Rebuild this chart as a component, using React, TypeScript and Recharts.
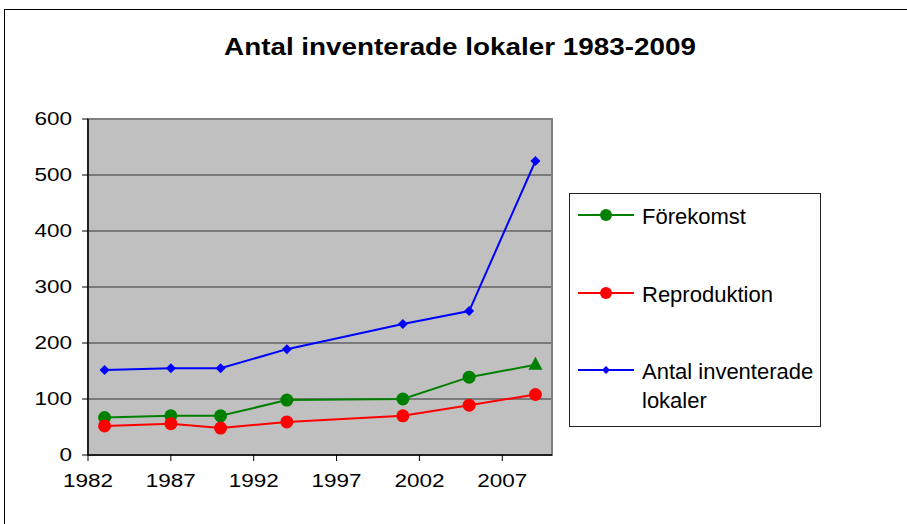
import React from 'react';
import {
  LineChart,
  Line,
  XAxis,
  YAxis,
  CartesianGrid,
  ReferenceArea,
} from 'recharts';

const years = [1983, 1987, 1990, 1994, 2001, 2005, 2009];
const forekomst = [67, 70, 70, 98, 100, 139, 161];
const reproduktion = [52, 56, 48, 59, 70, 89, 108];
const antal = [152, 155, 155, 189, 234, 257, 525];

const xTicks = [1982, 1987, 1992, 1997, 2002, 2007];
const yTicks = [0, 100, 200, 300, 400, 500, 600];

const data = years.map((year, i) => ({
  year,
  forekomst: forekomst[i],
  reproduktion: reproduktion[i],
  antal: antal[i],
}));

const FONT = '"Liberation Sans", Arial, sans-serif';
const GREEN = '#008000';
const RED = '#ff0000';
const BLUE = '#0000ff';

function YTick({ x, y, payload }: any) {
  return (
    <text
      transform={`translate(${x},${y}) scale(1.25,1)`}
      textAnchor="end"
      dy={6}
      fontSize={18}
      fontFamily={FONT}
      fill="#000"
    >
      {payload.value}
    </text>
  );
}

function XTick({ x, y, payload }: any) {
  return (
    <text
      transform={`translate(${x},${y}) scale(1.25,1)`}
      textAnchor="middle"
      dy={24}
      fontSize={18}
      fontFamily={FONT}
      fill="#000"
    >
      {payload.value}
    </text>
  );
}

function circleDot(color: string) {
  return (props: any) => (
    <circle key={props.index} cx={props.cx} cy={props.cy} r={6.5} fill={color} />
  );
}

// last Förekomst point is drawn as a triangle
function greenDot(props: any) {
  const { cx, cy, index } = props;
  if (index === years.length - 1) {
    return (
      <polygon
        key={index}
        points={`${cx},${cy - 8} ${cx + 7},${cy + 5} ${cx - 7},${cy + 5}`}
        fill={GREEN}
      />
    );
  }
  return <circle key={index} cx={cx} cy={cy} r={6.5} fill={GREEN} />;
}

function diamondDot(props: any) {
  const { cx, cy, index } = props;
  return (
    <polygon
      key={index}
      points={`${cx},${cy - 5} ${cx + 5},${cy} ${cx},${cy + 5} ${cx - 5},${cy}`}
      fill={BLUE}
    />
  );
}

function LegendMark({ color, diamond }: { color: string; diamond?: boolean }) {
  return (
    <svg width={58} height={14} style={{ position: 'absolute', left: 8, top: -7 }}>
      <line x1={0} y1={7} x2={56} y2={7} stroke={color} strokeWidth={2} />
      {diamond ? (
        <polygon points="28,3 32,7 28,11 24,7" fill={color} />
      ) : (
        <circle cx={28} cy={7} r={6} fill={color} />
      )}
    </svg>
  );
}

function ChartLegend() {
  const rows = [
    { label: 'Förekomst', color: GREEN, top: 21 },
    { label: 'Reproduktion', color: RED, top: 99 },
    { label: 'Antal inventerade\nlokaler', color: BLUE, top: 176, diamond: true },
  ];
  return (
    <div
      style={{
        position: 'absolute',
        left: 569,
        top: 193,
        width: 252,
        height: 234,
        border: '1px solid #222',
        boxSizing: 'border-box',
        background: '#fff',
        fontFamily: FONT,
        fontSize: 22,
        color: '#000',
      }}
    >
      {rows.map((r) => (
        <div key={r.label} style={{ position: 'absolute', left: 0, top: r.top, width: '100%' }}>
          <LegendMark color={r.color} diamond={r.diamond} />
          <div
            style={{
              position: 'absolute',
              left: 72,
              top: -13,
              whiteSpace: 'pre',
              lineHeight: '29px',
            }}
          >
            {r.label}
          </div>
        </div>
      ))}
    </div>
  );
}

export default function App() {
  return (
    <div
      style={{
        position: 'absolute',
        left: 0,
        top: 0,
        width: 907,
        height: 524,
        background: '#fff',
        overflow: 'hidden',
      }}
    >
      <div
        style={{
          position: 'absolute',
          left: 4,
          top: 9,
          width: 960,
          height: 600,
          border: '1px solid #000',
        }}
      />
      <div
        style={{
          position: 'absolute',
          left: 0,
          width: 907,
          top: 34,
          textAlign: 'center',
          fontFamily: FONT,
          fontWeight: 'bold',
          fontSize: 23,
        }}
      >
        <span style={{ display: 'inline-block', transform: 'scaleX(1.21)', marginLeft: 12 }}>
          Antal inventerade lokaler 1983-2009
        </span>
      </div>
      <div style={{ position: 'absolute', left: 0, top: 0 }}>
        <LineChart
          width={907}
          height={524}
          data={data}
          margin={{ top: 119, right: 355, bottom: 0, left: 0 }}
        >
          <CartesianGrid vertical={false} stroke="#333" fill="#c0c0c0" fillOpacity={1} />
          <ReferenceArea
            x1={1982}
            x2={2010}
            y1={0}
            y2={600}
            fill="none"
            stroke="#808080"
            strokeWidth={2}
            ifOverflow="visible"
          />
          <XAxis
            dataKey="year"
            type="number"
            domain={[1982, 2010]}
            ticks={xTicks}
            interval={0}
            height={69}
            axisLine={{ stroke: '#000', strokeWidth: 1.5 }}
            tickLine={{ stroke: '#000' }}
            tickSize={6}
            tickMargin={2}
            tick={<XTick />}
          />
          <YAxis
            type="number"
            domain={[0, 600]}
            ticks={yTicks}
            interval={0}
            axisLine={{ stroke: '#000', strokeWidth: 1.5 }}
            tickLine={{ stroke: '#000' }}
            tickSize={6}
            tickMargin={10}
            width={88}
            tick={<YTick />}
          />
          <Line
            dataKey="antal"
            name="Antal inventerade lokaler"
            stroke={BLUE}
            strokeWidth={2}
            dot={diamondDot}
            isAnimationActive={false}
          />
          <Line
            dataKey="forekomst"
            name="Förekomst"
            stroke={GREEN}
            strokeWidth={2}
            dot={greenDot}
            isAnimationActive={false}
          />
          <Line
            dataKey="reproduktion"
            name="Reproduktion"
            stroke={RED}
            strokeWidth={2}
            dot={circleDot(RED)}
            isAnimationActive={false}
          />
        </LineChart>
      </div>
      <ChartLegend />
    </div>
  );
}
